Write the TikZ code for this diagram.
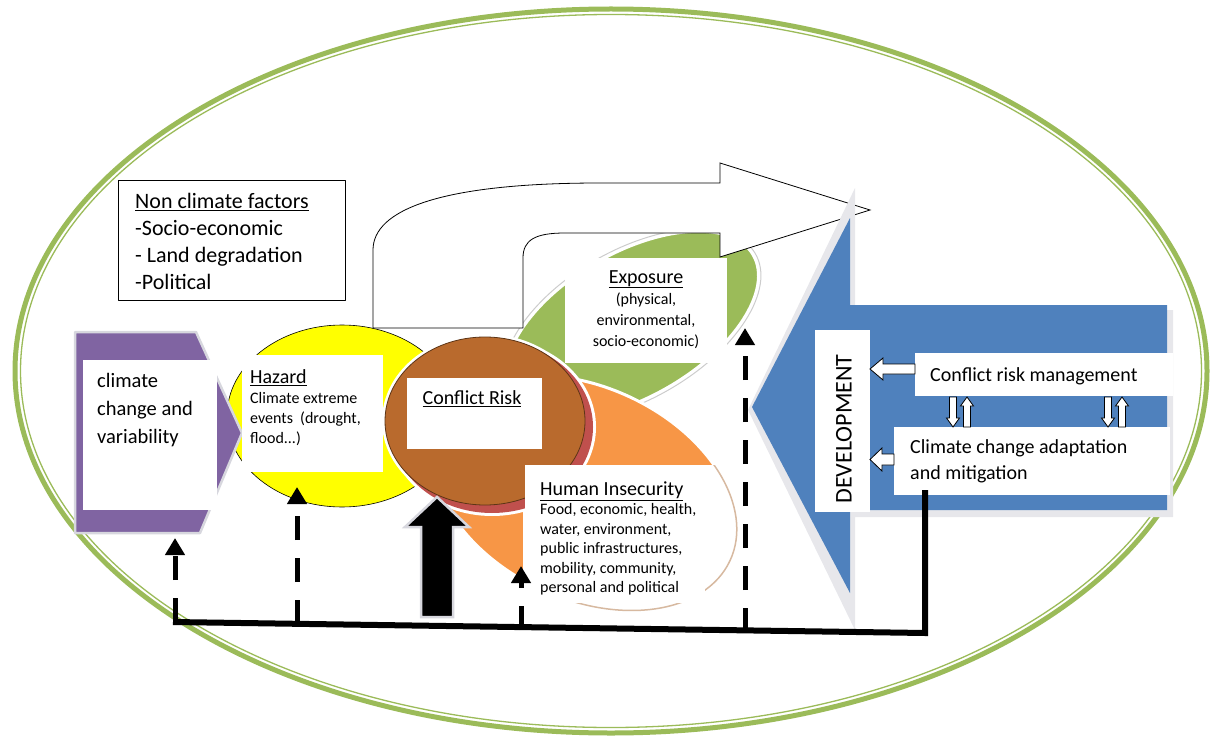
\documentclass[tikz,border=0pt]{standalone}
\usepackage{fontspec}
\setmainfont{Carlito}
\usetikzlibrary{arrows.meta}

\definecolor{ringgreen}{RGB}{155,187,89}
\definecolor{climpurple}{RGB}{128,100,162}
\definecolor{hazyellow}{RGB}{255,255,0}
\definecolor{insorange}{RGB}{247,150,70}
\definecolor{riskbrown}{RGB}{185,106,45}
\definecolor{rimred}{RGB}{192,80,77}
\definecolor{devblue}{RGB}{79,129,189}
\definecolor{softgray}{RGB}{215,215,222}
\definecolor{beige}{RGB}{215,185,160}

\tikzset{
  wbox/.style={fill=white, inner sep=0pt, anchor=north west},
  lbl/.style={inner sep=0pt, align=left},
  dasharrow/.style={line width=5pt, dash pattern=on 24pt off 18pt, -{Triangle[width=19pt,length=17pt]}},
  groundline/.style={line width=6pt, line join=miter},
  whitearrow/.style={draw=black, fill=white, line width=0.8pt, line join=miter},
}

\begin{document}
\begin{tikzpicture}[x=1pt, y=-1pt, line join=round]
\useasboundingbox (0,0) rectangle (1212,738);
% outer ring
\draw[ringgreen, line width=5pt] (611,371) ellipse [x radius=596, y radius=362];
\draw[ringgreen, line width=1.3pt] (611,371) ellipse [x radius=590.5, y radius=356.5];

% petals round the risk
\draw[fill=hazyellow, line width=0.6pt] (342,416) ellipse [x radius=115, y radius=91];
\draw[white, line width=3pt, fill=ringgreen, rotate around={30:(632,325)}] (632,325) ellipse [x radius=140, y radius=72];
\draw[gray!40, line width=1pt, rotate around={30:(632,325)}] (632,325) ellipse [x radius=142.5, y radius=74.5];
\draw[white, line width=3pt, fill=insorange, rotate around={-25:(585,493)}] (585,493) ellipse [x radius=160, y radius=106];
\begin{scope}
\clip (523,465) rectangle (760,640);
\draw[beige, line width=1.5pt, fill=white, rotate around={-25:(585,493)}] (585,493) ellipse [x radius=160, y radius=106];
\end{scope}
\draw[white, line width=6pt] (492,427) ellipse [x radius=101, y radius=86] (485,421) ellipse [x radius=100, y radius=84];
\fill[rimred] (492,427) ellipse [x radius=101, y radius=86];
\draw[fill=riskbrown, draw=black!50!riskbrown, line width=0.8pt] (485,421) ellipse [x radius=100, y radius=84];

% climate chevron
\draw[softgray, line width=2.5pt, fill=climpurple] (75,332) -- (196,332) -- (242,433) -- (200,533) -- (75,533) -- cycle;
\node[wbox, minimum width=134, minimum height=150] (ccv) at (83,360) {};

% non climate factors
\node[wbox, draw=black, line width=0.9pt, minimum width=227, minimum height=120] (ncf) at (118,180) {};

% bent arrow
\draw[whitearrow] (373,328) -- (373,250) .. controls (373,210) and (440,183) .. (600,183) -- (720,183) -- (720,163) -- (870,210) -- (720,257) -- (720,233) -- (565,233) .. controls (535,233) and (523,240) .. (523,258) -- (523,328) -- cycle;

\node[wbox, minimum width=141, minimum height=117] (haz) at (242,355) {};
\node[wbox, minimum width=162, minimum height=105] (exp) at (565,258) {};
\node[wbox, minimum width=135, minimum height=71] (risk) at (407,378) {};
\node[wbox, minimum width=180, minimum height=138] (hum) at (525,465) {};

% development arrow
\fill[softgray!60] (748,410) -- (855,188) -- (855,310) -- (1173,310) -- (1173,517) -- (855,517) -- (855,630) -- cycle;
\fill[devblue] (752,407) -- (850,218) -- (850,305) -- (1167,305) -- (1167,510) -- (850,510) -- (850,593) -- cycle;
\node[wbox, minimum width=55, minimum height=182] (dev) at (815,330) {};
\node[wbox, minimum width=258, minimum height=43] (crm) at (915,353) {};
\node[wbox, minimum width=276, minimum height=68] (cca) at (894,427) {};

\draw[whitearrow] (915,364) -- (883,364) -- (883,358) -- (870,369) -- (883,380) -- (883,374) -- (915,374) -- cycle;
\draw[whitearrow] (894,454) -- (882,454) -- (882,448) -- (870,459.5) -- (882,471) -- (882,465) -- (894,465) -- cycle;
\foreach \x in {953,1108}{
  \draw[whitearrow] ({\x-3.5},397) -- ({\x+3.5},397) -- ({\x+3.5},418) -- ({\x+6.5},418) -- (\x,427) -- ({\x-6.5},418) -- ({\x-3.5},418) -- cycle;
  \draw[whitearrow] ({\x+10.5},427) -- ({\x+17.5},427) -- ({\x+17.5},406) -- ({\x+20.5},406) -- ({\x+14},397) -- ({\x+7.5},406) -- ({\x+10.5},406) -- cycle;
}

% links from the ground line
\coordinate (g1) at (175,622); \coordinate (a1) at (175,538);
\coordinate (g2) at (297,624); \coordinate (a2) at (297,487);
\coordinate (g3) at (521,630); \coordinate (a3) at (521,566);
\coordinate (g4) at (745,632); \coordinate (a4) at (745,328);
\draw[dasharrow] (g1) -- (a1);
\draw[dasharrow] (g2) -- (a2);
\draw[dasharrow] (g3) -- (a3);
\draw[dasharrow] (g4) -- (a4);
\draw[draw=softgray, line width=2.5pt, fill=black, line join=miter] (421,617) -- (421,527) -- (405,527) -- (437,497) -- (469,527) -- (453,527) -- (453,617) -- cycle;
\coordinate (gl) at (173,622); \coordinate (gr) at (925,633); \coordinate (gt) at (925,490);
\draw[groundline] (gl) -- (gr) -- (gt);

% texts
\node[lbl, anchor=north west, font=\fontsize{22}{27}\selectfont] (ncftxt) at (135,193.5) {\underline{Non climate factors}\\-Socio-economic\\- Land degradation\\-Political};
\node[lbl, anchor=north west, font=\fontsize{20.5}{28}\selectfont] (ccvtxt) at (97,373) {climate\\change and\\variability};
\node[lbl, anchor=north west, font=\fontsize{16}{20}\selectfont] (haztxt) at (250,369.5) {{\fontsize{20}{21}\selectfont\underline{Hazard}}\\Climate extreme\\events\ \ (drought,\\flood...)};
\node[lbl, align=center, anchor=north, font=\fontsize{16}{21}\selectfont] (exptxt) at (646,270) {{\fontsize{20}{21}\selectfont\underline{Exposure}}\\(physical,\\environmental,\\socio-economic)};
\node[lbl, font=\fontsize{20}{22}\selectfont] (risktxt) at (472,399) {\underline{Conflict Risk}};
\node[lbl, anchor=north west, font=\fontsize{16}{19.5}\selectfont] (humtxt) at (540,481.5) {{\fontsize{20}{21}\selectfont\underline{Human Insecurity}}\\Food, economic, health,\\water, environment,\\public infrastructures,\\mobility, community,\\personal and political};
\node[lbl, rotate=90, font=\fontsize{24}{26}\selectfont] (devtxt) at (844,429) {DEVELOPMENT};
\node[lbl, anchor=west, font=\fontsize{20}{22}\selectfont] (crmtxt) at (930,376) {Conflict risk management};
\node[lbl, anchor=north west, font=\fontsize{20}{26}\selectfont] (ccatxt) at (910,439.5) {Climate change adaptation\\and mitigation};
\end{tikzpicture}
\end{document}
